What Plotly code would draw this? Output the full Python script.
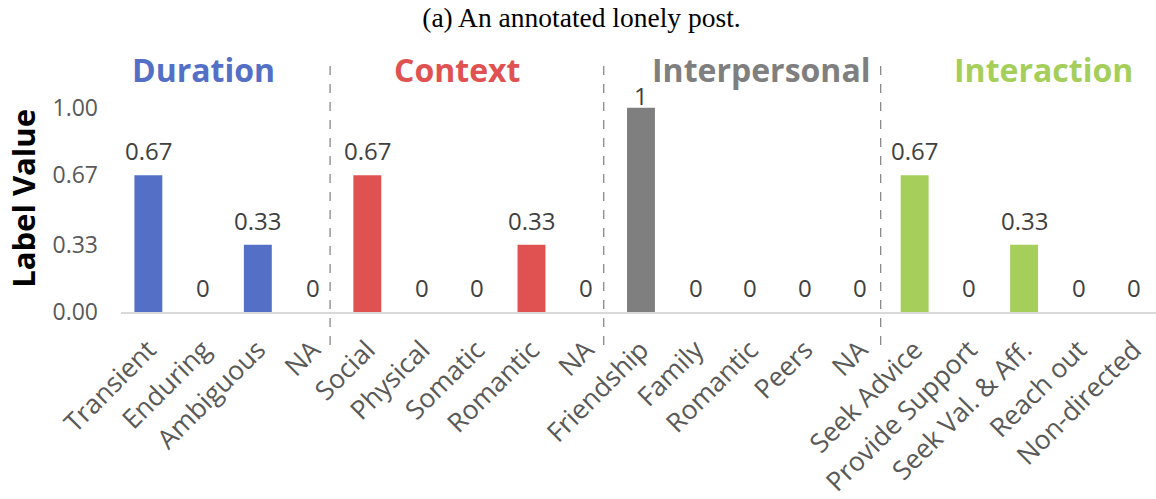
import plotly.graph_objects as go

categories = ["Transient", "Enduring", "Ambiguous", "NA",
              "Social", "Physical", "Somatic", "Romantic", "NA",
              "Friendship", "Family", "Romantic", "Peers", "NA",
              "Seek Advice", "Provide Support", "Seek Val. & Aff.", "Reach out", "Non-directed"]
values = [0.67, 0, 0.33, 0,
          0.67, 0, 0, 0.33, 0,
          1, 0, 0, 0, 0,
          0.67, 0, 0.33, 0, 0]
group_names = ["Duration", "Context", "Interpersonal", "Interaction"]
group_sizes = [4, 5, 5, 5]
group_colors = ["#5470C6", "#E05252", "#7F7F7F", "#A5CF5A"]
ytick_vals = [0, 0.33, 0.67, 1.0]
ytick_text = ["0.00", "0.33", "0.67", "1.00"]

bar_colors = []
for c, n in zip(group_colors, group_sizes):
    bar_colors += [c] * n

FONT = "Open Sans"
xs = list(range(len(categories)))
fig = go.Figure()
fig.add_trace(go.Bar(
    x=xs, y=values,
    marker=dict(color=bar_colors, line=dict(width=0)),
    width=0.51,
    cliponaxis=False,
))

# value labels above bars (clamped near the top of the plot, as in the original)
for xi, v in zip(xs, values):
    shift = 6 if v < 0.9 else -6
    fig.add_annotation(x=xi, y=v, xref="x", yref="y", text=f"{v:g}", showarrow=False,
                       yanchor="bottom", xanchor="center", yshift=shift,
                       font=dict(family=FONT, size=24, color="#404040"))

# group separators and headers
header_x = [1.0, 5.64, 11.2, 16.35]
sep_x = [3.32, 8.32, 13.38]
for sx in sep_x:
    fig.add_shape(type="line", xref="x", yref="paper", x0=sx, x1=sx, y0=-0.135, y1=1.03,
                  line=dict(color="#808080", width=1.2, dash="dash"))
for name, hx, col in zip(group_names, header_x, group_colors):
    fig.add_annotation(x=hx, y=0.988, xref="x", yref="paper", text=f"<b>{name}</b>",
                       showarrow=False, yanchor="middle", xanchor="center",
                       font=dict(family=FONT, size=32, color=col))

# y-axis title
fig.add_annotation(x=-0.095, y=0.465, xref="paper", yref="paper", text="<b>Label Value</b>",
                   textangle=-90, showarrow=False, xanchor="center", yanchor="middle",
                   font=dict(family=FONT, size=31, color="#000000"))

fig.update_layout(
    width=1156, height=499,
    margin=dict(l=121, r=0, t=67, b=187),
    plot_bgcolor="white", paper_bgcolor="white",
    showlegend=False,
    title=dict(text="(a) An annotated lonely post.", x=0.503, xref="container", xanchor="center",
               y=0.966, yref="container", yanchor="middle",
               font=dict(family="Liberation Serif", size=27.5, color="#000000")),
    xaxis=dict(range=[-0.5, 18.41], tickmode="array", tickvals=xs,
               ticktext=categories, tickangle=-45, automargin=False,
               ticklabelstandoff=10,
               tickfont=dict(family=FONT, size=26.5, color="#595959"),
               showline=True, linecolor="#D9D9D9", linewidth=1.5, ticks="",
               showgrid=False, zeroline=False),
    yaxis=dict(range=[0, 1.2], tickmode="array", tickvals=ytick_vals, ticktext=ytick_text,
               automargin=False, ticklabelstandoff=22,
               tickfont=dict(family=FONT, size=23, color="#595959"),
               showgrid=False, zeroline=False, showline=False, ticks=""),
)

fig.write_html("out.html", config={"displayModeBar": False},
               post_script="document.body.style.margin='0';")
